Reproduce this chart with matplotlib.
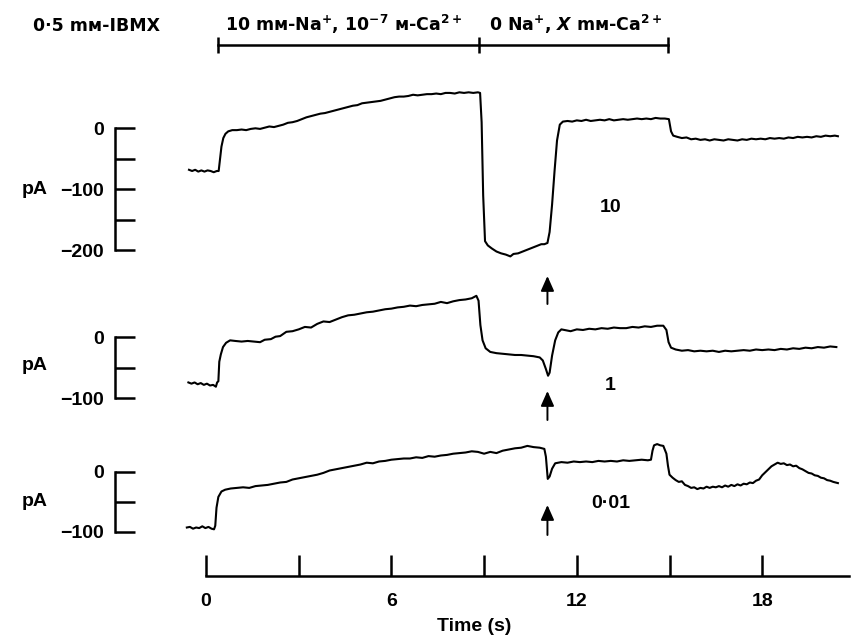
import matplotlib
matplotlib.use("Agg")
import matplotlib.pyplot as plt
import numpy as np

plt.rcParams['font.family'] = ['Liberation Sans', 'DejaVu Sans']
plt.rcParams['font.weight'] = 'bold'
plt.rcParams['mathtext.fontset'] = 'custom'
plt.rcParams['mathtext.rm'] = 'DejaVu Sans:bold'
plt.rcParams['mathtext.it'] = 'DejaVu Sans:italic:bold'
plt.rcParams['mathtext.bf'] = 'DejaVu Sans:bold'
plt.rcParams['mathtext.default'] = 'rm'

# ---------------- data (time in s, current in pA) ----------------
trace_10 = np.array([
    (-0.55, -68), (-0.45, -70), (-0.35, -68), (-0.25, -71), (-0.15, -69), (-0.05, -71), (0.05, -69),
    (0.15, -70), (0.25, -72), (0.35, -70), (0.41, -70),
    (0.45, -52), (0.50, -30), (0.56, -16), (0.63, -9), (0.72, -5), (0.85, -3), (1.0, -3), (1.15, -2),
    (1.3, -3), (1.45, -1), (1.6, 0), (1.75, -1), (1.9, 1), (2.05, 3), (2.2, 2), (2.35, 4), (2.5, 6),
    (2.65, 9), (2.8, 10), (2.95, 12), (3.1, 15), (3.25, 18), (3.4, 20), (3.55, 22), (3.7, 24), (3.85, 25),
    (4.0, 27), (4.15, 29), (4.3, 31), (4.45, 33), (4.6, 35), (4.75, 37), (4.9, 38), (5.05, 41), (5.2, 42),
    (5.35, 43), (5.5, 44), (5.65, 45), (5.8, 47), (5.95, 49), (6.1, 51), (6.25, 52), (6.4, 52), (6.55, 53),
    (6.7, 55), (6.85, 54), (7.0, 55), (7.15, 56), (7.3, 56), (7.45, 57), (7.6, 56), (7.75, 58), (7.9, 58),
    (8.05, 57), (8.2, 59), (8.35, 58), (8.5, 59), (8.65, 58), (8.8, 59), (8.87, 58),
    (8.92, 10), (8.97, -110), (9.03, -185), (9.12, -192), (9.25, -197), (9.4, -202), (9.55, -205),
    (9.7, -207), (9.85, -210), (9.95, -206), (10.1, -205), (10.25, -202), (10.4, -199), (10.55, -196),
    (10.7, -193), (10.85, -190), (10.95, -190), (11.05, -188), (11.12, -170), (11.2, -125), (11.28, -70),
    (11.36, -20), (11.45, 6), (11.55, 11), (11.7, 12), (11.85, 11), (12.0, 13), (12.15, 12), (12.3, 14),
    (12.45, 12), (12.6, 13), (12.75, 14), (12.9, 13), (13.05, 15), (13.2, 13), (13.35, 14), (13.5, 15),
    (13.65, 14), (13.8, 15), (13.95, 16), (14.1, 15), (14.25, 16), (14.4, 15), (14.55, 17), (14.7, 16),
    (14.85, 16), (14.98, 15),
    (15.05, -5), (15.12, -12), (15.25, -14), (15.4, -16), (15.55, -15), (15.7, -18), (15.85, -17),
    (16.0, -19), (16.15, -18), (16.3, -20), (16.45, -18), (16.6, -19), (16.75, -20), (16.9, -18),
    (17.05, -19), (17.2, -20), (17.35, -18), (17.5, -19), (17.65, -17), (17.8, -18), (17.95, -17),
    (18.1, -18), (18.25, -16), (18.4, -17), (18.55, -16), (18.7, -17), (18.85, -15), (19.0, -16),
    (19.15, -14), (19.3, -15), (19.45, -14), (19.6, -15), (19.75, -13), (19.9, -14), (20.05, -12),
    (20.2, -13), (20.35, -12), (20.45, -13),
])

trace_1 = np.array([
    (-0.57, -74), (-0.47, -76), (-0.37, -74), (-0.27, -77), (-0.17, -75), (-0.07, -78), (0.03, -76),
    (0.13, -79), (0.23, -78), (0.32, -81), (0.36, -74), (0.40, -72), (0.43, -40), (0.48, -28), (0.55, -16),
    (0.65, -9), (0.78, -5), (0.95, -6), (1.15, -7), (1.35, -6), (1.55, -7), (1.75, -8), (1.9, -4),
    (2.1, -3), (2.25, 1), (2.4, 2), (2.6, 9), (2.8, 10), (3.0, 13), (3.2, 17), (3.4, 16), (3.6, 22),
    (3.8, 26), (4.0, 25), (4.2, 29), (4.4, 33), (4.6, 36), (4.8, 37), (5.0, 39), (5.2, 41), (5.4, 42),
    (5.6, 44), (5.8, 46), (6.0, 47), (6.2, 49), (6.4, 50), (6.6, 52), (6.8, 51), (7.0, 53), (7.2, 54),
    (7.4, 55), (7.6, 58), (7.8, 56), (8.0, 59), (8.2, 61), (8.4, 62), (8.6, 64), (8.75, 68), (8.82, 60),
    (8.88, 20), (8.95, -5), (9.05, -18), (9.2, -24), (9.4, -26), (9.6, -27), (9.8, -28), (10.0, -29),
    (10.2, -29), (10.4, -30), (10.6, -31), (10.8, -33), (10.9, -38), (11.0, -52), (11.07, -63),
    (11.12, -58), (11.2, -30), (11.3, -5), (11.4, 8), (11.5, 13), (11.6, 12), (11.8, 10), (12.0, 13),
    (12.2, 12), (12.4, 14), (12.6, 13), (12.8, 15), (13.0, 14), (13.2, 16), (13.4, 15), (13.6, 15),
    (13.8, 17), (14.0, 16), (14.2, 18), (14.4, 17), (14.6, 19), (14.8, 19), (14.9, 12), (14.97, -8),
    (15.05, -17), (15.2, -20), (15.4, -22), (15.6, -21), (15.8, -23), (16.0, -22), (16.2, -23),
    (16.4, -22), (16.6, -24), (16.8, -22), (17.0, -23), (17.2, -22), (17.4, -21), (17.6, -22),
    (17.8, -20), (18.0, -21), (18.2, -20), (18.4, -21), (18.6, -19), (18.8, -20), (19.0, -18),
    (19.2, -19), (19.4, -17), (19.6, -18), (19.8, -16), (20.0, -17), (20.2, -15), (20.4, -16),
])

trace_001 = np.array([
    (-0.62, -93), (-0.52, -92), (-0.42, -95), (-0.32, -93), (-0.22, -94), (-0.12, -91), (-0.02, -94),
    (0.08, -92), (0.18, -95), (0.26, -96), (0.30, -90), (0.34, -60), (0.40, -42), (0.50, -33),
    (0.62, -30), (0.8, -28), (1.0, -27), (1.2, -26), (1.4, -27), (1.6, -24), (1.8, -23), (2.0, -22),
    (2.2, -20), (2.4, -18), (2.6, -17), (2.8, -13), (3.0, -11), (3.2, -9), (3.4, -7), (3.6, -5),
    (3.8, -2), (4.0, 2), (4.2, 4), (4.4, 6), (4.6, 8), (4.8, 10), (5.0, 12), (5.2, 15), (5.4, 14),
    (5.6, 17), (5.8, 18), (6.0, 20), (6.2, 21), (6.4, 22), (6.6, 22), (6.8, 24), (7.0, 23), (7.2, 26),
    (7.4, 25), (7.6, 27), (7.8, 28), (8.0, 30), (8.2, 31), (8.4, 32), (8.6, 34), (8.8, 33), (9.0, 30),
    (9.2, 33), (9.4, 31), (9.6, 35), (9.8, 37), (10.0, 39), (10.2, 40), (10.4, 43), (10.6, 41),
    (10.8, 40), (10.95, 38), (11.0, 25), (11.06, -12), (11.12, -8), (11.2, 5), (11.3, 14), (11.5, 16),
    (11.7, 15), (11.9, 17), (12.1, 16), (12.3, 17), (12.5, 16), (12.7, 18), (12.9, 17), (13.1, 18),
    (13.3, 17), (13.5, 19), (13.7, 18), (13.9, 19), (14.1, 20), (14.3, 19), (14.4, 20), (14.45, 35),
    (14.5, 44), (14.6, 46), (14.7, 44), (14.8, 43), (14.9, 30), (14.95, 10), (15.0, -5), (15.1, -10),
    (15.2, -14), (15.3, -17), (15.4, -16), (15.5, -22), (15.6, -24), (15.7, -27), (15.8, -26),
    (15.9, -29), (16.0, -27), (16.1, -28), (16.2, -25), (16.3, -27), (16.4, -25), (16.5, -26),
    (16.6, -24), (16.7, -26), (16.8, -23), (16.9, -25), (17.0, -22), (17.1, -24), (17.2, -21),
    (17.3, -23), (17.4, -20), (17.5, -21), (17.6, -18), (17.7, -19), (17.8, -15), (17.9, -13),
    (18.0, -6), (18.1, -1), (18.2, 4), (18.3, 9), (18.4, 12), (18.5, 15), (18.6, 13), (18.7, 14),
    (18.8, 11), (18.9, 12), (19.0, 9), (19.1, 10), (19.2, 6), (19.3, 4), (19.4, 1), (19.5, -2),
    (19.6, -3), (19.7, -6), (19.8, -7), (19.9, -10), (20.0, -11), (20.1, -14), (20.2, -15),
    (20.3, -17), (20.45, -19),
])

trace_labels = ["10", "1", "0·01"]
scale_ticks = [[0, -50, -100, -150, -200], [0, -50, -100], [0, -50, -100]]
scale_labels = [[0, -100, -200], [0, -100], [0, -100]]
solution_times = [0.40, 8.83, 14.96]      # solution changes (s)
arrow_time = 11.05                          # Ca2+ application (s)
time_major = [0, 6, 12, 18]
time_minor = [3, 9, 15]

# ---------------- layout ----------------
W, H = 851, 640
fig = plt.figure(figsize=(W / 100, H / 100), dpi=100)
T0_PX, PX_PER_S = 206.0, 30.9
XL_PX, XR_PX = 100, 849
xlim = ((XL_PX - T0_PX) / PX_PER_S, (XR_PX - T0_PX) / PX_PER_S)
SCALE_X = (115 - T0_PX) / PX_PER_S

def add_ax(top, bottom):
    return fig.add_axes([XL_PX / W, 1 - bottom / H, (XR_PX - XL_PX) / W, (bottom - top) / H])

# panels: top px, bottom px, zero px, px per pA, pA-label y px, label y px, arrow tip px, arrow tail px
panels = [
    (70, 270, 128.3, 0.61, 189, 207, 276, 304),
    (270, 430, 337.3, 0.61, 365, 386, 391, 420),
    (430, 545, 471.7, 0.60, 502, 504, 505, 535),
]
traces = [trace_10, trace_1, trace_001]

LW = 1.8
for k, (top, bot, zero, s, pa_y, lab_y, a_tip, a_tail) in enumerate(panels):
    ax = add_ax(top, bot)
    ax.set_xlim(*xlim)
    ax.set_ylim((zero - bot) / s, (zero - top) / s)
    ax.patch.set_visible(False)
    tr = traces[k]
    ax.plot(tr[:, 0], tr[:, 1], color='black', lw=1.5, solid_joinstyle='round')
    for sp in ['top', 'right', 'bottom']:
        ax.spines[sp].set_visible(False)
    ax.spines['left'].set_position(('data', SCALE_X))
    ax.spines['left'].set_bounds(min(scale_ticks[k]), 0)
    ax.spines['left'].set_linewidth(LW)
    ax.set_xticks([])
    ax.set_yticks(scale_labels[k])
    ax.set_yticks([v for v in scale_ticks[k] if v not in scale_labels[k]], minor=True)
    ax.set_yticklabels([str(v).replace('-', '\u2212') for v in scale_labels[k]])
    ax.tick_params(axis='y', which='both', direction='in', length=14.5, width=LW,
                   labelsize=14, pad=8)
    for lbl in ax.get_yticklabels():
        lbl.set_fontweight('bold')
    fig.text(35 / W, 1 - pa_y / H, "pA", ha='center', va='center', fontsize=14, fontweight='bold')
    ax.text(arrow_time + (610 - 547) / PX_PER_S, (zero - lab_y) / s, trace_labels[k],
            ha='center', va='center', fontsize=14, fontweight='bold')
    ax.annotate('', xy=(arrow_time, (zero - a_tip) / s), xytext=(arrow_time, (zero - a_tail) / s),
                arrowprops=dict(arrowstyle='-|>,head_length=0.9,head_width=0.4', color='black',
                                lw=1.4, shrinkA=0, shrinkB=0),
                annotation_clip=False)

# time axis
axt = fig.add_axes([XL_PX / W, 1 - 576 / H, (XR_PX - XL_PX) / W, 30 / H])
axt.set_xlim(*xlim)
axt.patch.set_visible(False)
for sp in ['top', 'right', 'left']:
    axt.spines[sp].set_visible(False)
axt.spines['bottom'].set_bounds(0, xlim[1])
axt.spines['bottom'].set_linewidth(LW)
axt.set_yticks([])
axt.set_xticks(time_major)
axt.set_xticks(time_minor, minor=True)
axt.set_xticklabels([str(v) for v in time_major])
axt.tick_params(axis='x', which='both', direction='in', length=15, width=LW, labelsize=14, pad=12)
for lbl in axt.get_xticklabels():
    lbl.set_fontweight('bold')
axt.set_xlabel("Time (s)", fontsize=14, fontweight='bold', labelpad=6)

# solution bar
axb = add_ax(30, 60)
axb.set_xlim(*xlim)
axb.set_ylim(-15, 15)
axb.axis('off')
axb.plot(solution_times, [0] * len(solution_times), color='black', lw=LW,
         marker='|', markersize=12, markeredgewidth=LW)

fig.text(33 / W, 1 - 31 / H, "0·5 mᴍ-IBMX", ha='left', va='baseline', fontsize=12.5,
         family='DejaVu Sans', fontweight='bold')
fig.text(225 / W, 1 - 31 / H, r"10 mᴍ-Na$^{+}$, 10$^{-7}$ ᴍ-Ca$^{2+}$", ha='left', va='baseline',
         fontsize=12.5, family='DejaVu Sans', fontweight='bold')
fig.text(489 / W, 1 - 31 / H, r"0 Na$^{+}$, $\mathit{X}$ mᴍ-Ca$^{2+}$", ha='left', va='baseline',
         fontsize=12.5, family='DejaVu Sans', fontweight='bold')

fig.savefig("out.png", dpi=100)
